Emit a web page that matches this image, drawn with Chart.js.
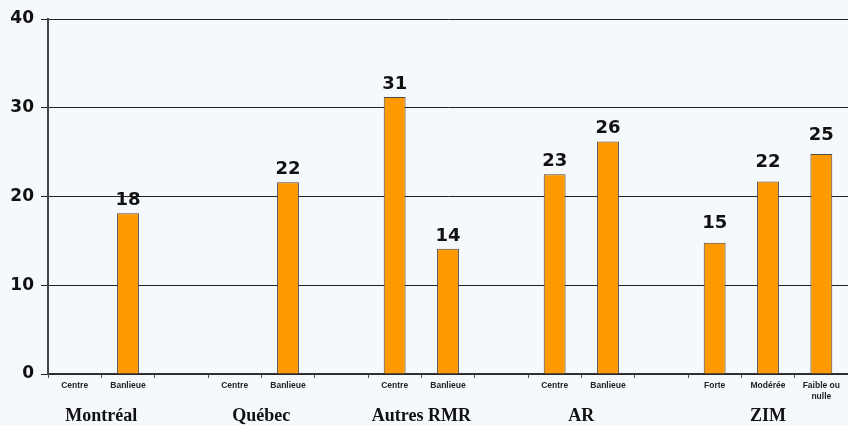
<!DOCTYPE html>
<html>
<head>
<meta charset="utf-8">
<script src="https://cdn.jsdelivr.net/npm/chart.js@4/dist/chart.umd.min.js"></script>
<style>
  html, body { margin: 0; padding: 0; background: #f5f8fc; }
  #wrap { width: 848px; height: 425px; position: relative; }
</style>
</head>
<body>
<div id="wrap"><canvas id="c" width="848" height="425"></canvas></div>
<script>
// Sub-category labels (empty strings are spacer slots between groups)
const subLabels = ['Centre', 'Banlieue', '', 'Centre', 'Banlieue', '', 'Centre', 'Banlieue', '', 'Centre', 'Banlieue', '', 'Forte', 'Modérée', ['Faible ou', 'nulle']];
// Values (null = no bar)
const values = [null, 18.1, null, null, 21.6, null, 31.2, 14.1, null, 22.5, 26.2, null, 14.8, 21.7, 24.8];
// Group labels and the slot indices they span
const groupNames = ['Montréal', 'Québec', 'Autres RMR', 'AR', 'ZIM'];
const groupSlots = [[0, 1], [3, 4], [6, 7], [9, 10], [12, 13, 14]];
const yTicks = [0, 10, 20, 30, 40];

const bgPlugin = {
  id: 'bg',
  beforeDraw(chart) {
    const ctx = chart.ctx;
    ctx.save();
    ctx.fillStyle = '#f5f8fc';
    ctx.fillRect(0, 0, chart.width, chart.height);
    ctx.restore();
  }
};

const valueLabels = {
  id: 'valueLabels',
  afterDatasetsDraw(chart) {
    const ctx = chart.ctx;
    const meta = chart.getDatasetMeta(0);
    ctx.save();
    ctx.font = 'bold 18px "DejaVu Sans"';
    ctx.fillStyle = '#111';
    ctx.textAlign = 'center';
    ctx.textBaseline = 'bottom';
    meta.data.forEach((bar, i) => {
      const v = values[i];
      if (v === null) return;
      const off = i >= 12 ? 10 : 4;
      ctx.fillText(String(Math.round(v)), bar.x, bar.y - off);
    });
    ctx.restore();
  }
};

const groupLabels = {
  id: 'groupLabels',
  afterDraw(chart) {
    const ctx = chart.ctx;
    const x = chart.scales.x;
    ctx.save();
    ctx.font = 'bold 18px "Liberation Serif"';
    ctx.fillStyle = '#111';
    ctx.textAlign = 'center';
    ctx.textBaseline = 'alphabetic';
    groupNames.forEach((name, g) => {
      const idx = groupSlots[g];
      const cx = idx.reduce((s, k) => s + x.getPixelForValue(k), 0) / idx.length;
      ctx.fillText(name, cx, chart.chartArea.bottom + 47);
    });
    ctx.restore();
  }
};

new Chart(document.getElementById('c'), {
  type: 'bar',
  data: {
    labels: subLabels,
    datasets: [{
      data: values,
      backgroundColor: '#ff9900',
      borderColor: '#4a4a4a',
      borderWidth: 1,
      borderSkipped: 'bottom',
      barPercentage: 0.41,
      categoryPercentage: 1.0
    }]
  },
  options: {
    responsive: false,
    animation: false,
    layout: { padding: { top: 19, right: 0, bottom: 0, left: 0 } },
    plugins: { legend: { display: false }, tooltip: { enabled: false } },
    scales: {
      x: {
        offset: true,
        grid: { display: true, drawOnChartArea: false, drawTicks: true, tickLength: 4, offset: true, color: '#555', lineWidth: 1 },
        border: { display: true, color: '#333', width: 1.5 },
        ticks: {
          autoSkip: false, maxRotation: 0, minRotation: 0, padding: 3,
          color: '#222', font: { family: '"Liberation Sans"', weight: 'bold', size: 8.5 }
        },
        afterFit(scale) { scale.height = 51; }
      },
      y: {
        min: 0, max: 40,
        afterBuildTicks(scale) { scale.ticks = yTicks.map(v => ({ value: v })); },
        grid: { color: '#222', lineWidth: 1, drawTicks: true, tickLength: 7 },
        border: { display: true, color: '#444', width: 2 },
        ticks: {
          padding: 7, color: '#111',
          font: { family: '"DejaVu Sans"', weight: 'bold', size: 17 }
        },
        afterFit(scale) { scale.width = 48; }
      }
    }
  },
  plugins: [bgPlugin, valueLabels, groupLabels]
});
</script>
</body>
</html>
